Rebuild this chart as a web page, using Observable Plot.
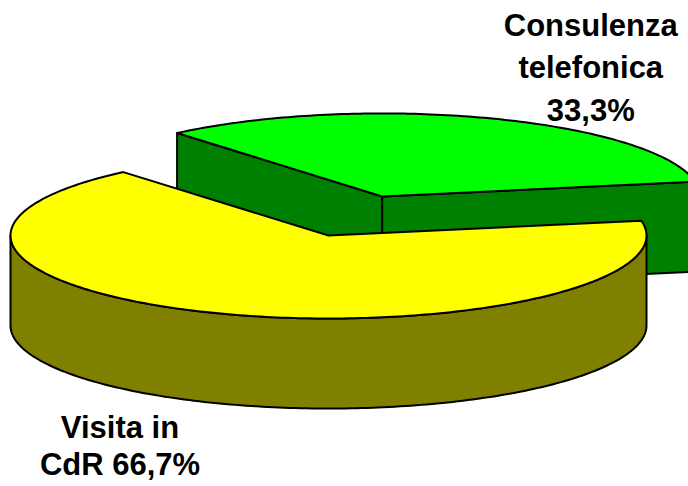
<!DOCTYPE html>
<html>
<head>
<meta charset="utf-8">
<script src="https://cdn.jsdelivr.net/npm/d3@7"></script>
<script src="https://cdn.jsdelivr.net/npm/@observablehq/plot@0.6"></script>
<style>
  html, body { margin: 0; padding: 0; background: #fff; overflow: hidden; }
  #chart svg { display: block; }
</style>
</head>
<body>
<div id="chart"></div>
<script>
// ---- data ----
const categories = ["Visita in CdR", "Consulenza telefonica"];
const values = [66.7, 33.3];
const labelTexts = ["Visita in\nCdR 66,7%", "Consulenza\ntelefonica\n33,3%"];

// ---- styles / layout ----
const topColors = ["#FFFF00", "#00FF00"];
const sideColors = ["#808000", "#008000"];
const explode = [0, 0.5];
const W = 688, H = 486;
const cx = 328, cy = 235, rx = 318, ry = 83, depth = 90;
const startDeg = -10.3;
const labelPush = [101, 105];
const labelShift = -7;

const rad = d => d * Math.PI / 180;
const total = d3.sum(values);

// build slices
let acc = startDeg;
const slices = values.map((v, i) => {
  const a0 = acc, a1 = acc + v / total * 360;
  acc = a1;
  const mid = rad((a0 + a1) / 2);
  const ox = cx + explode[i] * rx * Math.cos(mid);
  const oy = cy + explode[i] * ry * Math.sin(mid);
  return {i, a0, a1, mid, ox, oy};
});

const pt = (s, deg, dz = 0) => ({x: s.ox + rx * Math.cos(rad(deg)), y: s.oy + ry * Math.sin(rad(deg)) + dz});
const arc = (s, from, to, dz = 0) => {
  const n = Math.max(2, Math.ceil(Math.abs(to - from)));
  return d3.range(n + 1).map(k => pt(s, from + (to - from) * k / n, dz));
};

const marks = [];
const poly = (pts, fill) => marks.push(Plot.line(pts, {
  x: "x", y: "y", fill, stroke: "black", strokeWidth: 2,
  strokeLinejoin: "round", curve: "linear-closed", clip: true
}));

// back-to-front: slices further up are drawn first
const order = slices.slice().sort((a, b) => a.oy - b.oy);
for (const s of order) {
  const c = {x: s.ox, y: s.oy}, cd = {x: s.ox, y: s.oy + depth};
  // radial faces
  if (Math.cos(rad(s.a0)) < 0) {
    const p = pt(s, s.a0), pd = pt(s, s.a0, depth);
    poly([c, p, pd, cd], sideColors[s.i]);
  }
  if (Math.cos(rad(s.a1)) > 0) {
    const p = pt(s, s.a1), pd = pt(s, s.a1, depth);
    poly([c, p, pd, cd], sideColors[s.i]);
  }
  // outer rim (front-facing part, sin > 0)
  for (let k = -1; k <= 1; k++) {
    const lo = Math.max(s.a0, 360 * k), hi = Math.min(s.a1, 360 * k + 180);
    if (hi > lo) {
      const top = arc(s, lo, hi), bot = arc(s, hi, lo, depth);
      poly(top.concat(bot), sideColors[s.i]);
    }
  }
  // top face
  poly([c].concat(arc(s, s.a0, s.a1)), topColors[s.i]);
}

// labels
const labels = slices.map(s => {
  const p = pt(s, (s.a0 + s.a1) / 2);
  return {
    x: p.x + Math.sign(Math.cos(s.mid)) * labelPush[0],
    y: p.y + Math.sign(Math.sin(s.mid)) * labelPush[1] + labelShift,
    text: labelTexts[s.i],
    lh: s.i === 0 ? 1.2 : 1.36
  };
});
for (const l of labels) {
  marks.push(Plot.text([l], {
    x: "x", y: "y", text: "text", fontSize: 31, fontWeight: "bold",
    fontFamily: "Liberation Sans, Arial, sans-serif", fill: "black",
    textAnchor: "middle", lineAnchor: "top", lineHeight: l.lh
  }));
}

const chart = Plot.plot({
  width: W, height: H, margin: 0,
  x: {domain: [0, W], range: [0, W], axis: null},
  y: {domain: [0, H], range: [0, H], axis: null},
  style: {background: "#fff"},
  marks
});
document.getElementById("chart").appendChild(chart);
</script>
</body>
</html>
